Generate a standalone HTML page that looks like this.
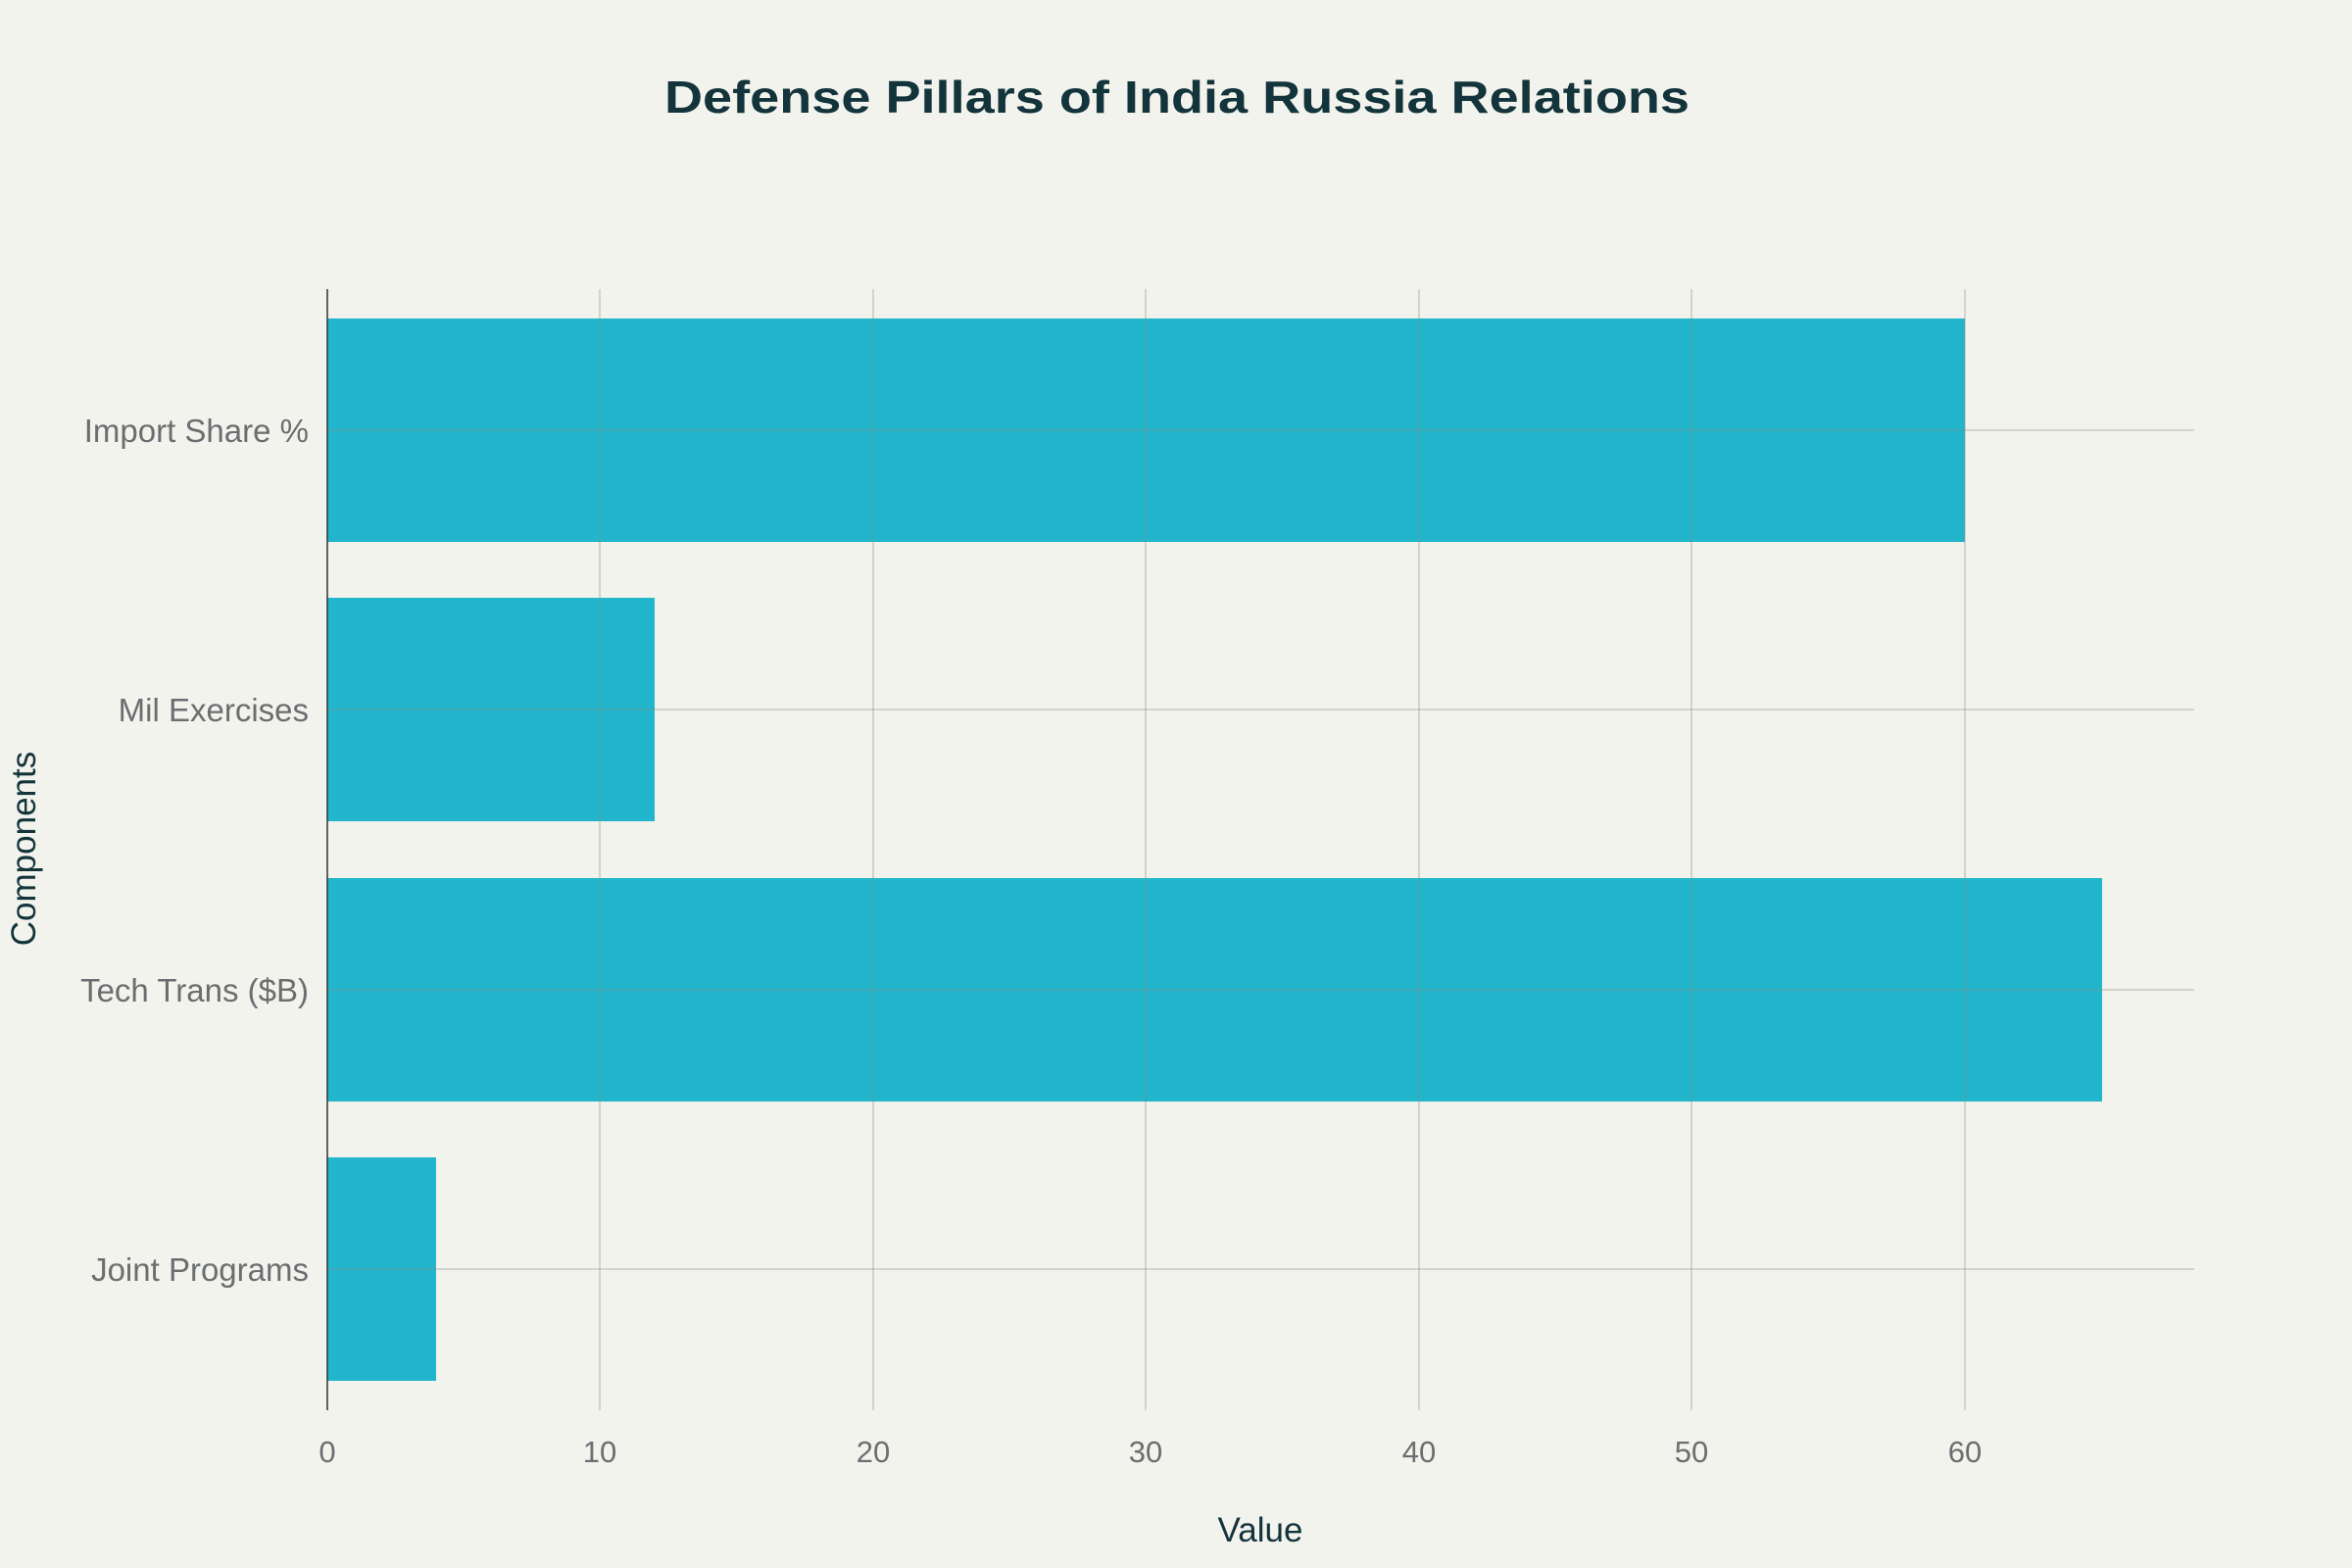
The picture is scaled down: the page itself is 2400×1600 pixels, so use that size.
<!DOCTYPE html>
<html><head><meta charset="utf-8"><style>
html,body{margin:0;padding:0;background:#f3f3ee;}
svg{display:block;font-family:"Liberation Sans",sans-serif;}
</style></head><body>
<svg width="2400" height="1600" viewBox="0 0 2400 1600" xmlns="http://www.w3.org/2000/svg">
<rect width="2400" height="1600" fill="#f3f3ee"/>
<text x="1201" y="115" text-anchor="middle" font-size="46" font-weight="bold" fill="#13343b" textLength="1046" lengthAdjust="spacingAndGlyphs">Defense Pillars of India Russia Relations</text>
<g fill="#21b6cb">
<rect x="334" y="325" width="1671" height="228"/>
<rect x="334" y="610" width="334" height="228"/>
<rect x="334" y="896" width="1811" height="228"/>
<rect x="334" y="1181" width="111" height="228"/>
</g>
<g stroke="#8a8a85" stroke-opacity="0.4" stroke-width="1.5">
<line x1="612" y1="295" x2="612" y2="1439"/>
<line x1="891" y1="295" x2="891" y2="1439"/>
<line x1="1169" y1="295" x2="1169" y2="1439"/>
<line x1="1448" y1="295" x2="1448" y2="1439"/>
<line x1="1726" y1="295" x2="1726" y2="1439"/>
<line x1="2005" y1="295" x2="2005" y2="1439"/>
<line x1="334" y1="439" x2="2239" y2="439"/>
<line x1="334" y1="724" x2="2239" y2="724"/>
<line x1="334" y1="1010" x2="2239" y2="1010"/>
<line x1="334" y1="1295" x2="2239" y2="1295"/>
</g>
<line x1="334" y1="295" x2="334" y2="1439" stroke="#333" stroke-width="1.5"/>
<g font-size="33" fill="#6b6e70" text-anchor="end">
<text x="315" y="451">Import Share %</text>
<text x="315" y="736">Mil Exercises</text>
<text x="315" y="1022">Tech Trans ($B)</text>
<text x="315" y="1307">Joint Programs</text>
</g>
<g font-size="31" fill="#6b6e70" text-anchor="middle">
<text x="334" y="1492">0</text>
<text x="612" y="1492">10</text>
<text x="891" y="1492">20</text>
<text x="1169" y="1492">30</text>
<text x="1448" y="1492">40</text>
<text x="1726" y="1492">50</text>
<text x="2005" y="1492">60</text>
</g>
<text x="1286" y="1573" text-anchor="middle" font-size="35" fill="#13343b">Value</text>
<text transform="translate(36,866) rotate(-90)" text-anchor="middle" font-size="35" fill="#13343b">Components</text>
</svg>
</body></html>
